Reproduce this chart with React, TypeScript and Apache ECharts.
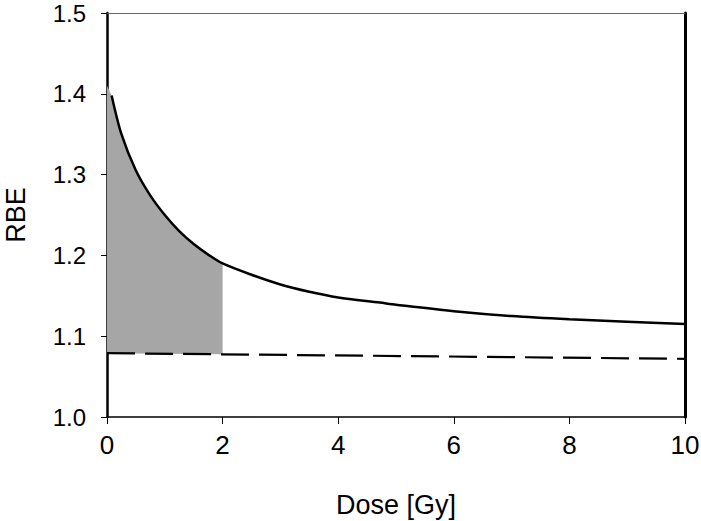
import React, { useEffect, useRef } from "react";
import * as echarts from "echarts";

// Solid RBE curve (dose in Gy, RBE)
const curveDose = [0.08, 0.25, 0.5, 0.75, 1.0, 1.25, 1.5, 1.75, 2.0, 2.5, 3.0, 3.5, 4.0, 4.72, 5.0, 6.0, 7.0, 8.0, 9.0, 10.0];
const curveRBE = [1.398, 1.35, 1.305, 1.274, 1.25, 1.23, 1.214, 1.201, 1.19, 1.176, 1.164, 1.155, 1.148, 1.1416, 1.139, 1.131, 1.125, 1.121, 1.118, 1.115];

// Dashed reference line
const dashDose = [0, 10];
const dashRBE = [1.079, 1.072];

// Shaded region (0..2 Gy) top edge, bottom is the dashed line
const fillDose = [0, 0.08, 0.25, 0.5, 0.75, 1.0, 1.25, 1.5, 1.75, 2.0];
const fillTop = [1.41, 1.398, 1.35, 1.305, 1.274, 1.25, 1.23, 1.214, 1.201, 1.19];
const fillBottom = [1.079, 1.0776];
const fillBottomDose = [0, 2];

const xTicks = [0, 2, 4, 6, 8, 10];
const yTicks = [1.0, 1.1, 1.2, 1.3, 1.4, 1.5];

export default function App() {
  const ref = useRef<HTMLDivElement>(null);
  useEffect(() => {
    if (!ref.current) return;
    const chart = echarts.init(ref.current, null, { renderer: "svg" });
    const font = "Liberation Sans, Arial, sans-serif";
    chart.setOption({
      animation: false,
      backgroundColor: "#fff",
      grid: { left: 107, right: 16, top: 13, bottom: 104, containLabel: false, outerBoundsMode: "none" },
      xAxis: [
        {
          type: "value",
          min: xTicks[0],
          max: xTicks[xTicks.length - 1],
          interval: 2,
          name: "Dose [Gy]",
          nameLocation: "middle",
          nameGap: 74,
          nameTextStyle: { fontFamily: font, fontSize: 27, color: "#000" },
          axisLine: { show: true, onZero: false, lineStyle: { color: "#000", width: 1.5 } },
          axisTick: { show: true, inside: false, length: 7, lineStyle: { color: "#000", width: 1 } },
          axisLabel: { fontFamily: font, fontSize: 26, color: "#000", margin: 15 },
          splitLine: { show: false },
        },
        {
          type: "value",
          position: "top",
          min: 0,
          max: 10,
          axisLine: { show: true, onZero: false, lineStyle: { color: "#666", width: 1 } },
          axisTick: { show: false },
          axisLabel: { show: false },
          splitLine: { show: false },
        },
      ],
      yAxis: [
        {
          type: "value",
          min: yTicks[0],
          max: yTicks[yTicks.length - 1],
          interval: 0.1,
          name: "RBE",
          nameLocation: "middle",
          nameGap: 78,
          nameTextStyle: { fontFamily: font, fontSize: 27, color: "#000" },
          axisLine: { show: true, onZero: false, lineStyle: { color: "#000", width: 2.5 } },
          axisTick: { show: true, inside: false, length: 6, lineStyle: { color: "#000", width: 1 } },
          axisLabel: {
            fontFamily: font,
            fontSize: 24,
            lineHeight: 22,
            color: "#000",
            margin: 21,
            formatter: (v: number) => v.toFixed(1),
          },
          splitLine: { show: false },
        },
        {
          type: "value",
          position: "right",
          min: 1.0,
          max: 1.5,
          interval: 0.1,
          axisLine: { show: true, onZero: false, lineStyle: { color: "#000", width: 3 } },
          axisTick: { show: false },
          axisLabel: { show: false },
          splitLine: { show: false },
        },
      ],
      series: [
        {
          type: "custom",
          z: 1,
          silent: true,
          clip: true,
          data: [[0]],
          renderItem: (_params: any, api: any) => {
            const pts: number[][] = [];
            for (let i = 0; i < fillDose.length; i++) pts.push(api.coord([fillDose[i], fillTop[i]]));
            for (let i = fillBottomDose.length - 1; i >= 0; i--)
              pts.push(api.coord([fillBottomDose[i], fillBottom[i]]));
            return {
              type: "polygon",
              shape: { points: pts, smooth: 0 },
              style: { fill: "#a6a6a6", stroke: "none" },
            };
          },
        },
        {
          type: "line",
          z: 3,
          data: curveDose.map((d, i) => [d, curveRBE[i]]),
          showSymbol: false,
          smooth: 0.3,
          lineStyle: { color: "#000", width: 2.5 },
        },
        {
          type: "line",
          z: 3,
          data: dashDose.map((d, i) => [d, dashRBE[i]]),
          showSymbol: false,
          lineStyle: { color: "#000", width: 2.2, type: [28, 10] },
        },
      ],
    });
    return () => chart.dispose();
  }, []);
  return <div ref={ref} style={{ position: "absolute", left: 0, top: 0, width: 701, height: 521 }} />;
}
